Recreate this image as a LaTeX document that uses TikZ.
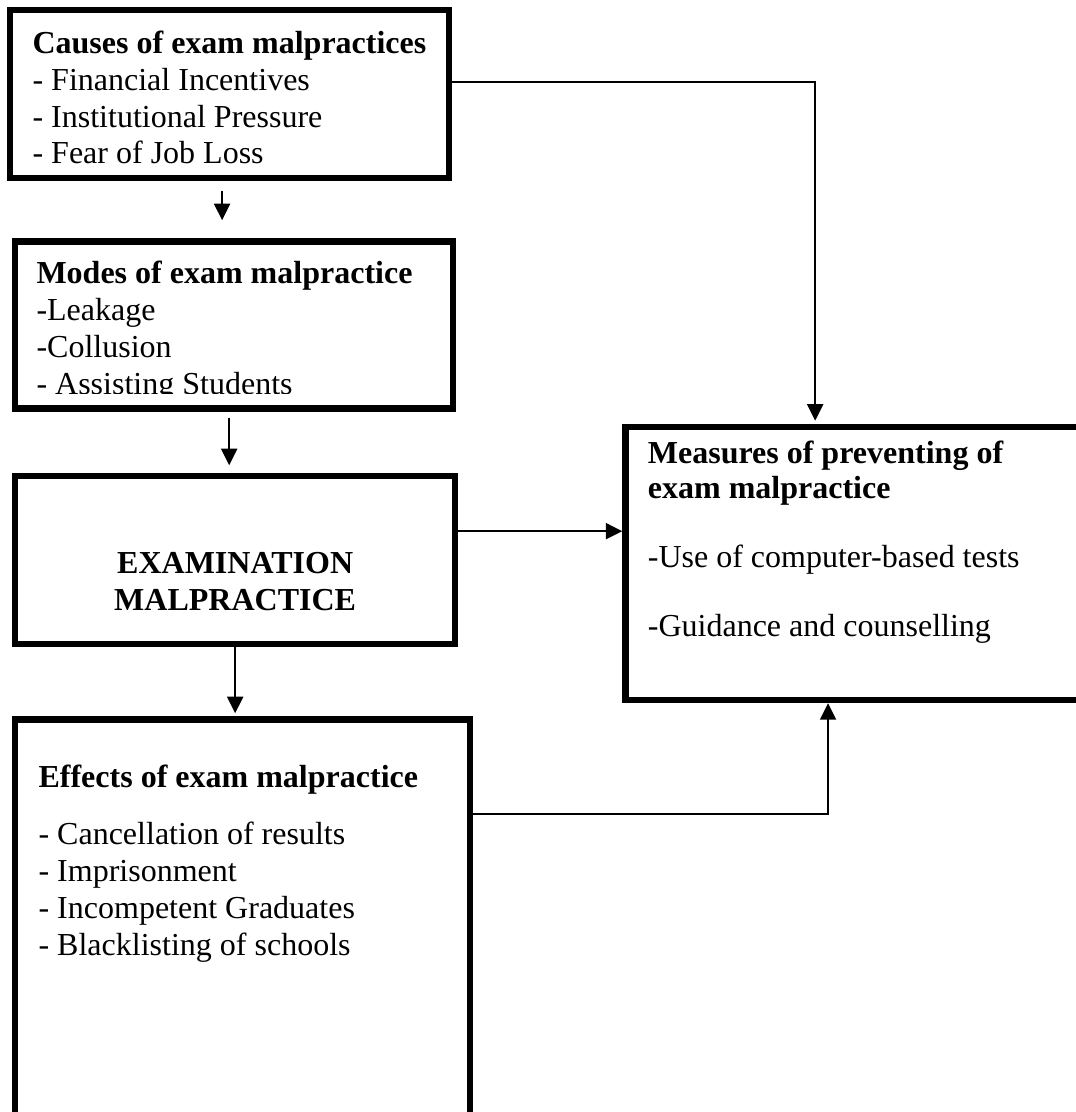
\documentclass[tikz,border=0pt]{standalone}
\usepackage{fontspec}
\setmainfont{Liberation Serif}
\usetikzlibrary{arrows.meta, positioning, calc}

\begin{document}
\begin{tikzpicture}[
  panel/.style={rectangle, draw, line width=2.4pt, fill=white, anchor=north west},
  note/.style={anchor=north west, inner sep=0pt, align=left, font=\fontsize{12pt}{13.8pt}\selectfont},
  arrow/.style={-{Triangle[length=6.2pt, width=6pt]}, line width=0.75pt}
]

\useasboundingbox (0,0) rectangle (14.177,-14.652);
\clip (0,0) rectangle (14.177,-14.652);

\node[panel, minimum width=5.784cm, minimum height=2.214cm] (causes) at (0.092,-0.092) {};
\node[panel, minimum width=5.771cm, minimum height=2.2cm, below=0.751cm of causes.south west, anchor=north west, xshift=0.066cm] (modes) {};
\node[panel, minimum width=5.797cm, minimum height=2.214cm, below=0.804cm of modes.south west, anchor=north west] (exam) {};
\node[panel, minimum width=5.995cm, minimum height=5.6cm, below=0.909cm of exam.south west, anchor=north west] (effects) {};
\node[panel, minimum width=6.4cm, minimum height=3.597cm, right=2.161cm of exam, yshift=-0.046cm] (measures) {};

\node[note] (causestext) at ([xshift=0.33cm, yshift=-0.266cm]causes.north west) {\strut\textbf{Causes of exam malpractices}\\- Financial Incentives\\- Institutional Pressure\\- Fear of Job Loss};
\begin{scope}
\clip (modes.north west) rectangle ([yshift=0.237cm]modes.south east);
\node[note] (modestext) at ([xshift=0.316cm, yshift=-0.253cm]modes.north west) {\strut\textbf{Modes of exam malpractice}\\-Leakage\\-Collusion\\- Assisting Students};
\end{scope}
\node[note, anchor=center, align=center] (examtext) at ([yshift=-0.285cm]exam.center) {\textbf{EXAMINATION}\\\textbf{MALPRACTICE}};
\node[note] (effectstext) at ([xshift=0.343cm, yshift=-0.596cm]effects.north west) {\strut\textbf{Effects of exam malpractice}\\[7.6pt]- Cancellation of results\\- Imprisonment\\- Incompetent Graduates\\- Blacklisting of schools};
\node[note, font=\fontsize{12pt}{13pt}\selectfont] (measurestext) at ([xshift=0.329cm, yshift=-0.194cm]measures.north west) {\strut\textbf{Measures of preventing of}\\\textbf{exam malpractice}\\[13pt]-Use of computer-based tests\\[13pt]-Guidance and counselling};

\draw[arrow, shorten <=0.12cm, shorten >=0.24cm] ([xshift=-0.1cm]causes.south) -- ([xshift=-0.1cm]causes.south |- modes.north);
\draw[arrow, shorten <=0.08cm, shorten >=0.1cm] ([xshift=-0.066cm]modes.south) -- ([xshift=-0.066cm]modes.south |- exam.north);
\draw[arrow, shorten >=0.04cm] (exam.south) -- (exam.south |- effects.north);
\draw[arrow, shorten >=0.04cm] ([yshift=0.16cm]causes.east) -| ([xshift=2.54cm]measures.north west);
\draw[arrow] ([yshift=0.38cm]exam.east) -- ([yshift=0.38cm]exam.east -| measures.west);
\draw[arrow] ([yshift=-1.29cm]effects.north east) -| ([xshift=2.71cm]measures.south west);

\end{tikzpicture}
\end{document}
